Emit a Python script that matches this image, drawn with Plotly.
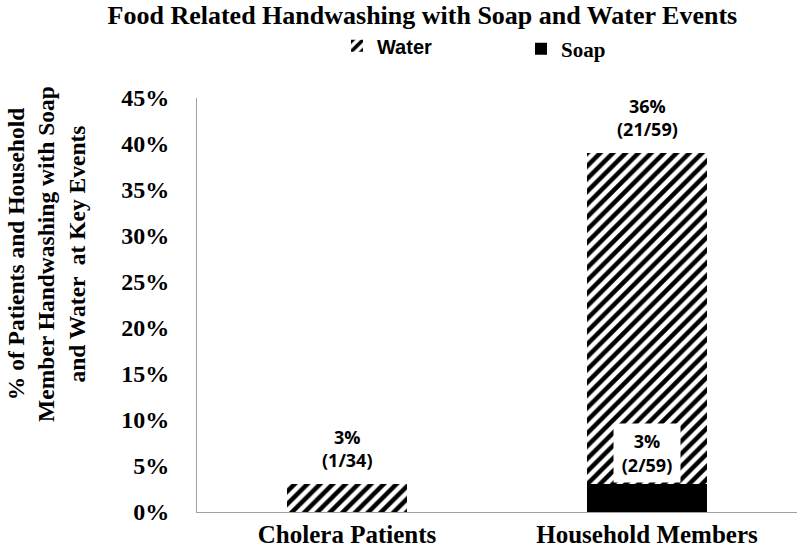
import plotly.graph_objects as go

categories = ["Cholera Patients", "Household Members"]
soap = [0, 3]
water = [3, 36]
total_labels = ["3%<br>(1/34)", "36%<br>(21/59)"]
soap_label = "3%<br>(2/59)"
y_ticks = [0, 5, 10, 15, 20, 25, 30, 35, 40, 45]
y_ticklabels = [f"{v}%" for v in y_ticks]

serif = "Liberation Serif, Times New Roman, serif"
sans = "Open Sans, Liberation Sans, sans-serif"

fig = go.Figure()
fig.add_trace(go.Bar(
    x=categories, y=soap, name="<b>Soap</b>", legend="legend2", showlegend=True,
    marker=dict(color="black", line=dict(width=0)), width=0.4,
))
fig.add_trace(go.Bar(
    x=categories, y=water, name="<b>Water</b>", legend="legend", showlegend=True,
    marker=dict(color="white", line=dict(width=0),
                pattern=dict(shape="/", fgcolor="black", bgcolor="white", size=9, solidity=0.5,
                             fillmode="replace")),
    width=0.4,
))

# labels above the stacks
for cat, s, w, lab in zip(categories, soap, water, total_labels):
    fig.add_annotation(x=cat, y=s + w, text=f"<b>{lab}</b>", showarrow=False,
                       yanchor="bottom", yshift=10,
                       font=dict(family=sans, size=18, color="black"))

# soap label in white box
fig.add_annotation(x=categories[1], y=soap[1], text=f"<b>{soap_label}</b>", showarrow=False,
                   yanchor="bottom", yshift=1, bgcolor="white", width=66, height=58, borderpad=0,
                   font=dict(family=sans, size=18, color="black"))

# y-axis title
fig.add_annotation(xref="paper", yref="paper", x=-0.252, y=0.623,
                   text="<b>% of Patients and Household<br>Member Handwashing with Soap<br>and Water  at Key Events</b>",
                   textangle=-90, showarrow=False, xanchor="center", yanchor="middle",
                   font=dict(family=serif, size=23.5, color="black"))

fig.update_layout(
    width=800, height=549,
    showlegend=True,
    margin=dict(l=197, r=3, t=98, b=37, autoexpand=False),
    paper_bgcolor="white", plot_bgcolor="white",
    barmode="stack",
    title=dict(text="<b>Food Related Handwashing with Soap and Water Events</b>",
               x=0.528, xanchor="center", y=0.972, yanchor="middle", yref="container",
               font=dict(family=serif, size=26, color="black")),
    legend=dict(orientation="h", x=0.2333, xanchor="left", y=1.126, yanchor="middle",
                font=dict(family="Liberation Sans, Arial, sans-serif", size=20, color="black"),
                bgcolor="rgba(0,0,0,0)"),
    legend2=dict(orientation="h", x=0.54, xanchor="left", y=1.118, yanchor="middle",
                 font=dict(family=serif, size=21, color="black"),
                 bgcolor="rgba(0,0,0,0)"),
    xaxis=dict(showline=True, linecolor="#a0a0a0", linewidth=1, showgrid=False,
               ticks="", tickfont=dict(family=serif, size=25, color="black")),
    yaxis=dict(range=[0, 45], tickvals=y_ticks, ticktext=[f"<b>{t}</b>" for t in y_ticklabels],
               showline=True, linecolor="#a0a0a0", linewidth=1, showgrid=False, zeroline=False,
               ticks="", ticklabelstandoff=22,
               tickfont=dict(family=serif, size=24, color="black")),
)
fig.update_xaxes(ticktext=[f"<b>{c}</b>" for c in categories], tickvals=categories)

fig.write_html("out.html", config={"displayModeBar": False},
               post_script="document.body.style.margin='0';document.body.style.padding='0';")
